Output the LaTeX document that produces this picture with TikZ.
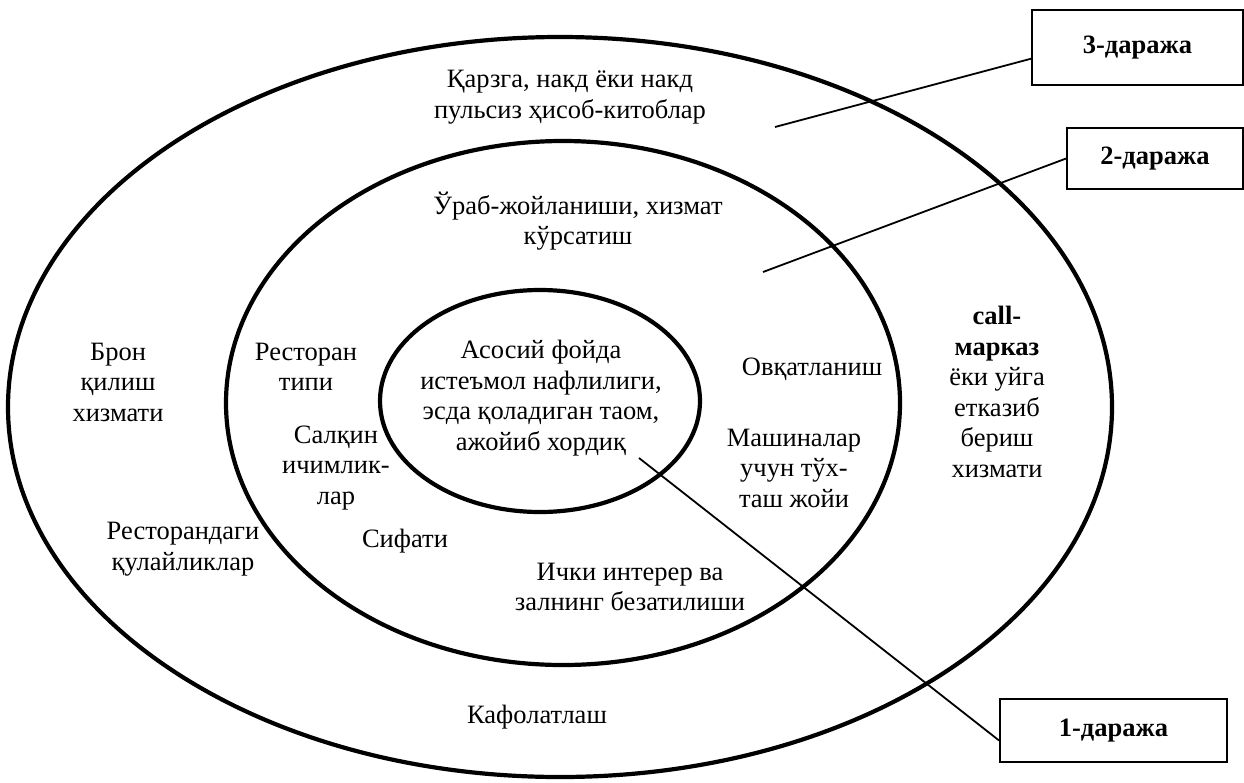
\documentclass[tikz,border=0pt]{standalone}
\usepackage{fontspec}
\setmainfont{Liberation Serif}
\begin{document}
\begin{tikzpicture}[x=1pt,y=-1pt,
  ring/.style={line width=4.2pt},
  lead/.style={line width=1.8pt},
  label/.style={align=center,inner sep=0pt,font=\fontsize{26.5}{30.5}\selectfont},
  levelbox/.style={draw,line width=1.8pt,inner sep=0pt,
    font=\fontsize{26.5}{30.5}\selectfont\bfseries}]
\useasboundingbox (0,0) rectangle (1244,782);
\fill[white] (0,0) rectangle (1244,782);

% three nested levels
\draw[ring] (560,407) ellipse [x radius=552, y radius=370];
\draw[ring] (563,403) ellipse [x radius=337, y radius=262];
\draw[ring] (540,401) ellipse [x radius=160, y radius=111];

% level boxes
\node[levelbox,minimum width=211pt,minimum height=75pt] (b3) at (1137.5,47.5) {3-даража};
\node[levelbox,minimum width=176pt,minimum height=61pt] (b2) at (1155,158.5) {2-даража};
\node[levelbox,minimum width=227pt,minimum height=63pt] (b1) at (1113.5,730.5) {1-даража};

% leader lines
\coordinate (l3) at (775,127);
\coordinate (l2) at (763,272);
\coordinate (l1) at (639,458);
\draw[lead] (l3) -- (b3.186.7);
\draw[lead] (l2) -- (b2.west);
\draw[lead] (l1) -- (b1.185);

% outer ring
\node[label] (t1) at (570,97) {Қарзга, накд ёки накд\\пульсиз ҳисоб-китоблар};
\node[label] (t2) at (118,382) {Брон\\қилиш\\хизмати};
\node[label] (t3) at (183,549) {Ресторандаги\\қулайликлар};
\node[label] (t4) at (537,717) {Кафолатлаш};
\node[label] (t5) at (997,392) {\textbf{call-}\\\textbf{марказ}\\ёки уйга\\етказиб\\бериш\\хизмати};

% middle ring
\node[label] (m1) at (578,221) {Ўраб-жойланиши, хизмат\\кўрсатиш};
\node[label] (m2) at (306,367) {Ресторан\\типи};
\node[label] (m3) at (336,468) {Салқин\\ичимлик-\\лар};
\node[label] (m4) at (405,541) {Сифати};
\node[label] (m5) at (630,587) {Ички интерер ва\\залнинг безатилиши};
\node[label] (m6) at (812,369) {Овқатланиш};
\node[label] (m7) at (794,468) {Машиналар\\учун тўх-\\таш жойи};

% core
\node[label] (c1) at (541,398) {Асосий фойда\\истеъмол нафлилиги,\\эсда қоладиган таом,\\ажойиб хордиқ};
\end{tikzpicture}
\end{document}
